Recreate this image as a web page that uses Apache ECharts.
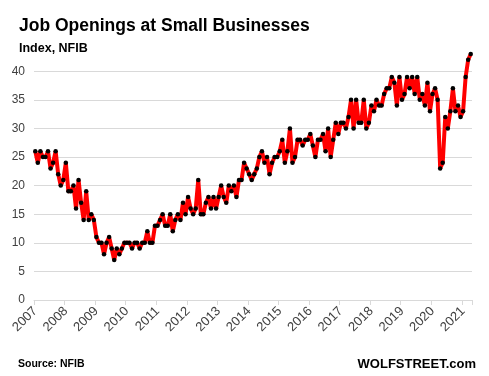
<!DOCTYPE html>
<html>
<head>
<meta charset="UTF-8">
<style>
  html, body { margin: 0; padding: 0; background: #fff; }
  #chart { width: 489px; height: 376px; }
</style>
<script src="https://cdn.jsdelivr.net/npm/echarts@6/dist/echarts.min.js"></script>
</head>
<body>
<div id="chart"></div>
<script>
// monthly job openings index (Jan 2007 .. Apr 2021)
var years = ['2007','2008','2009','2010','2011','2012','2013','2014','2015','2016','2017','2018','2019','2020','2021'];
var v2007 = [26, 24, 26, 25, 25, 26, 23, 24, 26, 22, 20, 21];
var v2008 = [24, 19, 19, 20, 16, 21, 17, 14, 19, 14, 15, 14];
var v2009 = [11, 10, 10, 8, 10, 11, 9, 7, 9, 8, 9, 10];
var v2010 = [10, 10, 9, 10, 10, 9, 10, 10, 12, 10, 10, 13];
var v2011 = [13, 14, 15, 13, 13, 15, 12, 14, 15, 14, 17, 15];
var v2012 = [18, 16, 15, 16, 21, 15, 15, 17, 18, 16, 18, 16];
var v2013 = [18, 20, 18, 17, 20, 19, 20, 18, 21, 21, 24, 23];
var v2014 = [22, 21, 22, 23, 25, 26, 24, 25, 22, 24, 25, 25];
var v2015 = [26, 28, 24, 26, 30, 24, 25, 28, 28, 27, 28, 28];
var v2016 = [29, 27, 25, 28, 28, 29, 26, 30, 25, 28, 31, 29];
var v2017 = [31, 31, 30, 32, 35, 30, 35, 31, 31, 35, 30, 31];
var v2018 = [34, 33, 35, 34, 34, 36, 37, 37, 39, 38, 34, 39];
var v2019 = [35, 36, 39, 37, 39, 36, 39, 35, 36, 34, 38, 33];
var v2020 = [36, 37, 35, 23, 24, 32, 30, 33, 37, 33, 34, 32];
var v2021 = [33, 39, 42, 43];

var yearly = [v2007, v2008, v2009, v2010, v2011, v2012, v2013, v2014, v2015, v2016, v2017, v2018, v2019, v2020, v2021];
var months = [];
var values = [];
yearly.forEach(function (arr, i) {
  arr.forEach(function (v, m) {
    months.push(years[i] + '-' + (m + 1));
    values.push(v);
  });
});

var chart = echarts.init(document.getElementById('chart'), null, { renderer: 'canvas' });
var labelColor = '#404040';
var font = 'Liberation Sans, Arial, sans-serif';

chart.setOption({
  animation: false,
  title: [
    { text: 'Job Openings at Small Businesses', left: 14, top: 12,
      textStyle: { fontFamily: font, fontWeight: 'bold', fontSize: 17.5, color: '#000' } },
    { text: 'Index, NFIB', left: 14, top: 37,
      textStyle: { fontFamily: font, fontWeight: 'bold', fontSize: 12.5, color: '#000' } },
    { text: 'Source: NFIB', left: 13, top: 354,
      textStyle: { fontFamily: font, fontWeight: 'bold', fontSize: 10.5, color: '#000' } },
    { text: 'WOLFSTREET.com', right: 8, top: 353,
      textStyle: { fontFamily: font, fontWeight: 'bold', fontSize: 13, color: '#000' } }
  ],
  grid: { left: 34, right: 17, top: 42.6, bottom: 76, containLabel: false },
  xAxis: {
    type: 'category',
    data: months,
    boundaryGap: true,
    axisLine: { lineStyle: { color: '#d9d9d9', width: 1 } },
    axisTick: { show: true, interval: 11, length: 5, lineStyle: { color: '#d9d9d9' } },
    axisLabel: {
      interval: 11,
      rotate: 45,
      margin: 9,
      color: labelColor,
      fontFamily: font,
      fontSize: 13,
      formatter: function (v) { return v.split('-')[0]; }
    },
    splitLine: { show: false }
  },
  yAxis: {
    type: 'value',
    min: 0,
    max: 45,
    interval: 5,
    axisLine: { show: false },
    axisTick: { show: false },
    axisLabel: { color: labelColor, fontFamily: font, fontSize: 12, margin: 9, showMaxLabel: false },
    splitLine: { showMaxLine: false, lineStyle: { color: '#d9d9d9', width: 1 } }
  },
  series: [{
    type: 'line',
    data: values,
    showAllSymbol: true,
    symbol: 'circle',
    symbolSize: 4.5,
    itemStyle: { color: '#000' },
    lineStyle: { color: '#ff0000', width: 4 },
    z: 3
  }]
});
</script>
</body>
</html>
